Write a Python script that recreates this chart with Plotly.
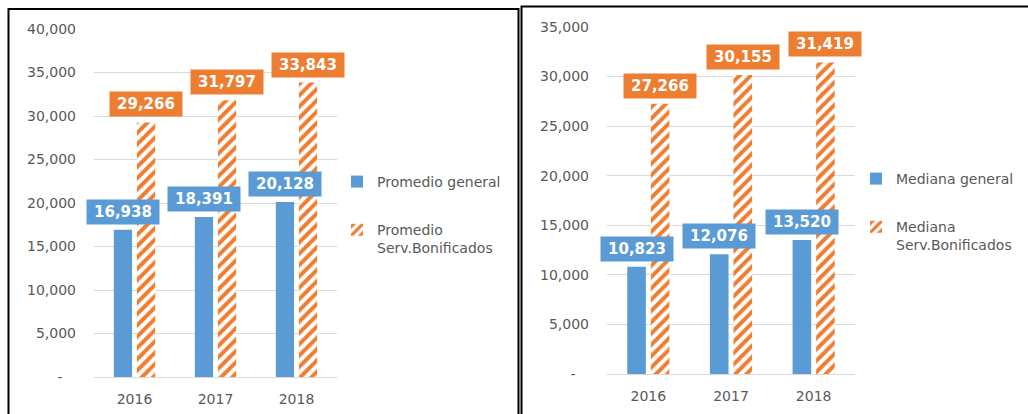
import plotly.graph_objects as go

# ---- data ----
years = ["2016", "2017", "2018"]
promedio_general = [16938, 18391, 20128]
promedio_bonificados = [29266, 31797, 33843]
mediana_general = [10823, 12076, 13520]
mediana_bonificados = [27266, 30155, 31419]

left_tickvals = [0, 5000, 10000, 15000, 20000, 25000, 30000, 35000, 40000]
right_tickvals = [0, 5000, 10000, 15000, 20000, 25000, 30000, 35000]

BLUE = "#5B9BD5"
ORANGE = "#ED7D31"
GRAY = "#595959"
GRID = "#D9D9D9"
FONT = "DejaVu Sans"

W, H = 1028, 414
BARGAP = 0.43
BARGROUPGAP = 0.21


def fmt(v):
    return f"{v:,}"


def ticktext(vals):
    return ["-\u00a0\u00a0\u00a0" if v == 0 else fmt(v) for v in vals]


fig = go.Figure()

pattern = dict(shape="/", fgcolor=ORANGE, bgcolor="white", size=8, solidity=0.5,
               fgopacity=1)

fig.add_trace(go.Bar(x=years, y=promedio_general, name="Promedio general",
                     marker=dict(color=BLUE, line=dict(width=0)),
                     xaxis="x", yaxis="y", legend="legend", legendgroup="a"))
fig.add_trace(go.Bar(x=years, y=promedio_bonificados, name="Promedio<br>Serv.Bonificados",
                     marker=dict(color=ORANGE, pattern=pattern, line=dict(width=0)),
                     xaxis="x", yaxis="y", legend="legend", legendgroup="b"))
fig.add_trace(go.Bar(x=years, y=mediana_general, name="Mediana general",
                     marker=dict(color=BLUE, line=dict(width=0)),
                     xaxis="x2", yaxis="y2", legend="legend2", legendgroup="c"))
fig.add_trace(go.Bar(x=years, y=mediana_bonificados, name="Mediana<br>Serv.Bonificados",
                     marker=dict(color=ORANGE, pattern=pattern, line=dict(width=0)),
                     xaxis="x2", yaxis="y2", legend="legend2", legendgroup="d"))

# data labels
off = (1 - BARGAP) / 4
annotations = []
for (series, color, sign, xr, yr) in [
    (promedio_general, BLUE, -1, "x", "y"),
    (promedio_bonificados, ORANGE, 1, "x", "y"),
    (mediana_general, BLUE, -1, "x2", "y2"),
    (mediana_bonificados, ORANGE, 1, "x2", "y2"),
]:
    for i, v in enumerate(series):
        annotations.append(dict(
            x=i + sign * off, y=v, xref=xr, yref=yr, text=fmt(v), showarrow=False,
            xanchor="center", yanchor="bottom", yshift=5,
            bgcolor=color, width=70, height=22, borderpad=1,
            font=dict(family=FONT, size=15, color="white", weight="bold"),
        ))

axis_font = dict(family=FONT, size=14, color=GRAY)

shapes = [
    dict(type="rect", xref="paper", yref="paper",
         x0=8.5 / W, x1=518.5 / W, y0=-0.1, y1=1 - 9 / H,
         line=dict(color="black", width=2), fillcolor="rgba(0,0,0,0)"),
    dict(type="rect", xref="paper", yref="paper",
         x0=521.5 / W, x1=1.1, y0=-0.1, y1=1 - 6.5 / H,
         line=dict(color="black", width=2), fillcolor="rgba(0,0,0,0)"),
]

legend_common = dict(xanchor="left", yanchor="top", bgcolor="rgba(0,0,0,0)",
                     font=dict(family=FONT, size=14, color=GRAY),
                     tracegroupgap=27, valign="top", traceorder="grouped")

cat_range = [-0.5, len(years) - 0.5]

fig.update_layout(
    width=W, height=H,
    margin=dict(l=0, r=0, t=0, b=0),
    paper_bgcolor="white", plot_bgcolor="white",
    barmode="group", bargap=BARGAP, bargroupgap=BARGROUPGAP,
    font=dict(family=FONT, size=14, color=GRAY),
    xaxis=dict(domain=[94 / W, 337 / W], anchor="y", range=cat_range,
               showline=True, linecolor=GRID,
               linewidth=1, showgrid=False, tickfont=axis_font, ticklabelstandoff=9,
               automargin=False),
    yaxis=dict(domain=[1 - 377 / H, 1 - 29 / H], anchor="x", range=[0, 40000],
               tickvals=left_tickvals, ticktext=ticktext(left_tickvals),
               showgrid=True, gridcolor=GRID, gridwidth=1, zeroline=False,
               tickfont=axis_font, ticklabelstandoff=17, automargin=False),
    xaxis2=dict(domain=[607 / W, 855 / W], anchor="y2", range=cat_range,
                showline=True, linecolor=GRID,
                linewidth=1, showgrid=False, tickfont=axis_font, ticklabelstandoff=9,
                automargin=False),
    yaxis2=dict(domain=[1 - 374 / H, 1 - 27 / H], anchor="x2", range=[0, 35000],
                tickvals=right_tickvals, ticktext=ticktext(right_tickvals),
                showgrid=True, gridcolor=GRID, gridwidth=1, zeroline=False,
                tickfont=axis_font, ticklabelstandoff=17, automargin=False),
    legend=dict(x=337 / W, y=1 - 166 / H, **legend_common),
    legend2=dict(x=856 / W, y=1 - 163 / H, **legend_common),
    annotations=annotations,
    shapes=shapes,
    showlegend=True,
)

fig.write_html("out.html", config={"displayModeBar": False},
               post_script="document.body.style.margin='0';")
